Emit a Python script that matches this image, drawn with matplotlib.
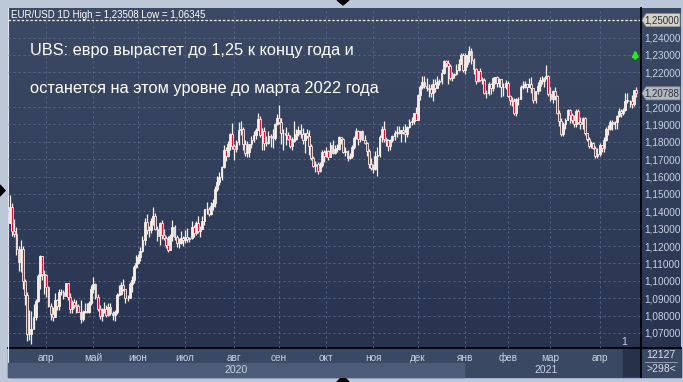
import numpy as np
import matplotlib
matplotlib.use('Agg')
import matplotlib.pyplot as plt
from matplotlib.colors import LinearSegmentedColormap
from matplotlib.patches import Rectangle, Polygon
from matplotlib.transforms import blended_transform_factory

# EUR/USD daily candles, 9 Mar 2020 .. 26 Apr 2021
opens = [
    1.1330, 1.1425, 1.1284, 1.1268, 1.1180, 1.1106, 1.1185, 1.0996, 1.0918, 1.0692, 1.0693, 1.0722, 1.0792, 1.0885, 1.1030, 1.1141, 1.1041,
    1.1031, 1.0965, 1.0856, 1.0808, 1.0794, 1.0891, 1.0857, 1.0935, 1.0936, 1.0913, 1.0986, 1.0908, 1.0837, 1.0875, 1.0862, 1.0855, 1.0823, 1.0781, 1.0822, 1.0825, 1.0822, 1.0874,
    1.0954, 1.0982, 1.0909, 1.0839, 1.0797, 1.0833, 1.0840, 1.0805, 1.0850, 1.0816, 1.0802, 1.0820, 1.0917, 1.0924, 1.0975, 1.0950, 1.0900, 1.0901, 1.0979, 1.1003, 1.1079,
    1.1101, 1.1134, 1.1172, 1.1237, 1.1337, 1.1290, 1.1295, 1.1342, 1.1373, 1.1300, 1.1257, 1.1331, 1.1264, 1.1247, 1.1204, 1.1178, 1.1260, 1.1310, 1.1250, 1.1220, 1.1218, 1.1245,
    1.1233, 1.1250, 1.1238, 1.1244, 1.1309, 1.1275, 1.1330, 1.1287, 1.1300, 1.1342, 1.1412, 1.1412, 1.1385, 1.1428, 1.1445, 1.1529, 1.1569, 1.1595, 1.1656, 1.1753, 1.1719, 1.1790, 1.1846,
    1.1777, 1.1761, 1.1800, 1.1867, 1.1875, 1.1788, 1.1737, 1.1740, 1.1785, 1.1813, 1.1841, 1.1870, 1.1932, 1.1838, 1.1862, 1.1795, 1.1795, 1.1833, 1.1830, 1.1822, 1.1904,
    1.1938, 1.1913, 1.1852, 1.1850, 1.1838, 1.1815, 1.1778, 1.1804, 1.1816, 1.1845, 1.1865, 1.1846, 1.1813, 1.1849, 1.1836, 1.1773, 1.1704, 1.1661, 1.1672, 1.1632, 1.1665, 1.1744,
    1.1720, 1.1747, 1.1715, 1.1782, 1.1734, 1.1760, 1.1760, 1.1828, 1.1814, 1.1744, 1.1747, 1.1706, 1.1718, 1.1768, 1.1823, 1.1861, 1.1815, 1.1860, 1.1812, 1.1795, 1.1746, 1.1673,
    1.1647, 1.1641, 1.1720, 1.1722, 1.1826, 1.1875, 1.1815, 1.1812, 1.1775, 1.1811, 1.1834, 1.1853, 1.1858, 1.1853, 1.1870, 1.1859, 1.1842, 1.1886, 1.1915, 1.1922, 1.1964,
    1.1927, 1.2071, 1.2114, 1.2143, 1.2122, 1.2109, 1.2101, 1.2078, 1.2133, 1.2111, 1.2145, 1.2150, 1.2197, 1.2264, 1.2255, 1.2239, 1.2166, 1.2187, 1.2188, 1.2213, 1.2250, 1.2297,
    1.2216, 1.2246, 1.2298, 1.2325, 1.2271, 1.2219, 1.2151, 1.2206, 1.2156, 1.2157, 1.2080, 1.2078, 1.2130, 1.2108, 1.2165, 1.2171, 1.2140, 1.2160, 1.2114, 1.2117,
    1.2136, 1.2062, 1.2040, 1.2035, 1.1963, 1.2046, 1.2049, 1.2117, 1.2119, 1.2131, 1.2118, 1.2130, 1.2107, 1.2038, 1.2092, 1.2120, 1.2156, 1.2150, 1.2165, 1.2176,
    1.2075, 1.2049, 1.2090, 1.2062, 1.1967, 1.1917, 1.1847, 1.1901, 1.1928, 1.1984, 1.1953, 1.1928, 1.1902, 1.1977, 1.1916, 1.1904, 1.1937, 1.1851, 1.1815, 1.1778, 1.1794, 1.1764, 1.1718,
    1.1728, 1.1779, 1.1762, 1.1813, 1.1874, 1.1871, 1.1914, 1.1900, 1.1911, 1.1947, 1.1979, 1.1967, 1.1983, 1.2036, 1.2036, 1.2033, 1.2015, 1.2097,
]
highs = [
    1.1495, 1.1450, 1.1357, 1.1310, 1.1200, 1.1237, 1.1200, 1.1013, 1.0937, 1.0830, 1.0826, 1.0866, 1.0893, 1.1038, 1.1147, 1.1145, 1.1060,
    1.1040, 1.0970, 1.0870, 1.0850, 1.0927, 1.0893, 1.0950, 1.0952, 1.0948, 1.0990, 1.0988, 1.0927, 1.0890, 1.0895, 1.0887, 1.0865, 1.0890, 1.0832, 1.0870, 1.0872, 1.0883, 1.0974,
    1.1019, 1.0985, 1.0925, 1.0858, 1.0845, 1.0876, 1.0863, 1.0874, 1.0872, 1.0826, 1.0830, 1.0928, 1.0977, 1.0995, 1.1008, 1.0955, 1.0920, 1.0995, 1.1030, 1.1092, 1.1147,
    1.1155, 1.1197, 1.1257, 1.1361, 1.1384, 1.1317, 1.1359, 1.1422, 1.1390, 1.1313, 1.1338, 1.1352, 1.1296, 1.1259, 1.1257, 1.1268, 1.1349, 1.1323, 1.1266, 1.1248, 1.1286, 1.1257,
    1.1290, 1.1303, 1.1253, 1.1346, 1.1320, 1.1346, 1.1371, 1.1318, 1.1375, 1.1415, 1.1452, 1.1425, 1.1452, 1.1469, 1.1547, 1.1601, 1.1625, 1.1660, 1.1781, 1.1771, 1.1805, 1.1848, 1.1908,
    1.1790, 1.1809, 1.1916, 1.1917, 1.1887, 1.1810, 1.1807, 1.1790, 1.1833, 1.1862, 1.1879, 1.1966, 1.1950, 1.1877, 1.1883, 1.1835, 1.1860, 1.1842, 1.1872, 1.1910, 1.1960,
    1.2011, 1.1937, 1.1872, 1.1885, 1.1855, 1.1839, 1.1827, 1.1917, 1.1871, 1.1888, 1.1900, 1.1882, 1.1850, 1.1872, 1.1870, 1.1786, 1.1718, 1.1688, 1.1681, 1.1683, 1.1755, 1.1753,
    1.1770, 1.1753, 1.1797, 1.1809, 1.1781, 1.1787, 1.1831, 1.1830, 1.1822, 1.1771, 1.1752, 1.1735, 1.1783, 1.1832, 1.1880, 1.1868, 1.1862, 1.1870, 1.1838, 1.1797, 1.1760, 1.1707,
    1.1673, 1.1745, 1.1770, 1.1838, 1.1891, 1.1920, 1.1830, 1.1815, 1.1815, 1.1840, 1.1868, 1.1893, 1.1892, 1.1870, 1.1890, 1.1905, 1.1890, 1.1929, 1.1941, 1.1965, 1.2003,
    1.2076, 1.2124, 1.2176, 1.2178, 1.2167, 1.2133, 1.2130, 1.2163, 1.2162, 1.2178, 1.2160, 1.2220, 1.2273, 1.2272, 1.2270, 1.2249, 1.2202, 1.2198, 1.2249, 1.2276, 1.2310, 1.2310,
    1.2310, 1.2301, 1.2349, 1.2340, 1.2283, 1.2225, 1.2208, 1.2223, 1.2172, 1.2167, 1.2096, 1.2145, 1.2140, 1.2172, 1.2174, 1.2180, 1.2169, 1.2163, 1.2140, 1.2156,
    1.2150, 1.2072, 1.2060, 1.2050, 1.2050, 1.2057, 1.2128, 1.2148, 1.2150, 1.2135, 1.2169, 1.2170, 1.2109, 1.2095, 1.2145, 1.2170, 1.2181, 1.2170, 1.2243, 1.2185,
    1.2113, 1.2100, 1.2113, 1.2070, 1.1985, 1.1934, 1.1915, 1.1934, 1.1990, 1.1988, 1.1966, 1.1952, 1.1989, 1.1990, 1.1945, 1.1942, 1.1945, 1.1853, 1.1830, 1.1802, 1.1801, 1.1775, 1.1762,
    1.1793, 1.1781, 1.1826, 1.1887, 1.1895, 1.1928, 1.1925, 1.1917, 1.1955, 1.1994, 1.1990, 1.1995, 1.2079, 1.2080, 1.2043, 1.2071, 1.2100, 1.2117,
]
lows = [
    1.1330, 1.1255, 1.1253, 1.1150, 1.1054, 1.1052, 1.0950, 1.0858, 1.0654, 1.0660, 1.0636, 1.0722, 1.0772, 1.0880, 1.0953, 1.1005, 1.0925,
    1.0905, 1.0848, 1.0777, 1.0769, 1.0790, 1.0830, 1.0830, 1.0920, 1.0896, 1.0910, 1.0888, 1.0812, 1.0812, 1.0845, 1.0815, 1.0820, 1.0757, 1.0770, 1.0817, 1.0812, 1.0813, 1.0860,
    1.0932, 1.0895, 1.0825, 1.0782, 1.0767, 1.0815, 1.0790, 1.0800, 1.0805, 1.0775, 1.0766, 1.0810, 1.0910, 1.0920, 1.0940, 1.0872, 1.0885, 1.0898, 1.0938, 1.0990, 1.1075,
    1.1095, 1.1115, 1.1165, 1.1205, 1.1271, 1.1250, 1.1275, 1.1320, 1.1290, 1.1230, 1.1206, 1.1242, 1.1236, 1.1187, 1.1168, 1.1175, 1.1230, 1.1235, 1.1196, 1.1190, 1.1212, 1.1200,
    1.1220, 1.1226, 1.1222, 1.1242, 1.1254, 1.1262, 1.1276, 1.1253, 1.1300, 1.1320, 1.1385, 1.1371, 1.1380, 1.1406, 1.1423, 1.1516, 1.1553, 1.1580, 1.1649, 1.1689, 1.1713, 1.1753, 1.1760,
    1.1696, 1.1740, 1.1782, 1.1841, 1.1754, 1.1721, 1.1712, 1.1710, 1.1766, 1.1800, 1.1817, 1.1866, 1.1826, 1.1753, 1.1753, 1.1774, 1.1785, 1.1770, 1.1762, 1.1811, 1.1895,
    1.1905, 1.1789, 1.1753, 1.1781, 1.1810, 1.1765, 1.1753, 1.1799, 1.1811, 1.1836, 1.1823, 1.1788, 1.1737, 1.1821, 1.1725, 1.1695, 1.1653, 1.1627, 1.1612, 1.1626, 1.1655, 1.1685,
    1.1710, 1.1695, 1.1712, 1.1732, 1.1730, 1.1740, 1.1755, 1.1787, 1.1737, 1.1720, 1.1689, 1.1703, 1.1706, 1.1760, 1.1815, 1.1782, 1.1800, 1.1808, 1.1785, 1.1718, 1.1649, 1.1640,
    1.1622, 1.1640, 1.1603, 1.1711, 1.1796, 1.1801, 1.1778, 1.1746, 1.1755, 1.1798, 1.1808, 1.1830, 1.1842, 1.1800, 1.1844, 1.1800, 1.1827, 1.1882, 1.1898, 1.1905, 1.1925,
    1.1923, 1.2039, 1.2106, 1.2110, 1.2091, 1.2058, 1.2060, 1.2037, 1.2084, 1.2110, 1.2125, 1.2130, 1.2192, 1.2232, 1.2132, 1.2154, 1.2151, 1.2165, 1.2184, 1.2205, 1.2245, 1.2200,
    1.2190, 1.2233, 1.2262, 1.2250, 1.2192, 1.2132, 1.2143, 1.2150, 1.2130, 1.2073, 1.2054, 1.2068, 1.2077, 1.2090, 1.2130, 1.2116, 1.2115, 1.2058, 1.2062, 1.2103,
    1.2057, 1.2011, 1.2004, 1.1952, 1.1950, 1.2011, 1.2046, 1.2102, 1.2109, 1.2086, 1.2114, 1.2082, 1.2023, 1.2022, 1.2077, 1.2091, 1.2130, 1.2116, 1.2162, 1.2062,
    1.2035, 1.2024, 1.2040, 1.1958, 1.1893, 1.1836, 1.1836, 1.1873, 1.1923, 1.1910, 1.1910, 1.1883, 1.1883, 1.1905, 1.1874, 1.1873, 1.1839, 1.1807, 1.1762, 1.1763, 1.1761, 1.1704, 1.1704,
    1.1720, 1.1743, 1.1739, 1.1806, 1.1837, 1.1865, 1.1868, 1.1871, 1.1876, 1.1942, 1.1944, 1.1955, 1.1975, 1.2026, 1.2000, 1.1995, 1.2005, 1.2060,
]
closes = [
    1.1425, 1.1284, 1.1268, 1.1180, 1.1106, 1.1185, 1.0996, 1.0918, 1.0692, 1.0693, 1.0722, 1.0792, 1.0885, 1.1030, 1.1141, 1.1041, 1.1031,
    1.0965, 1.0856, 1.0808, 1.0794, 1.0891, 1.0857, 1.0935, 1.0936, 1.0913, 1.0986, 1.0908, 1.0837, 1.0875, 1.0862, 1.0855, 1.0823, 1.0781, 1.0822, 1.0825, 1.0822, 1.0874, 1.0954,
    1.0982, 1.0909, 1.0839, 1.0797, 1.0833, 1.0840, 1.0805, 1.0850, 1.0816, 1.0802, 1.0820, 1.0917, 1.0924, 1.0975, 1.0950, 1.0900, 1.0901, 1.0979, 1.1003, 1.1079, 1.1101,
    1.1134, 1.1172, 1.1237, 1.1337, 1.1290, 1.1295, 1.1342, 1.1373, 1.1300, 1.1257, 1.1331, 1.1264, 1.1247, 1.1204, 1.1178, 1.1260, 1.1310, 1.1250, 1.1220, 1.1218, 1.1245, 1.1233,
    1.1250, 1.1238, 1.1244, 1.1309, 1.1275, 1.1330, 1.1287, 1.1300, 1.1342, 1.1412, 1.1412, 1.1385, 1.1428, 1.1445, 1.1529, 1.1569, 1.1595, 1.1656, 1.1753, 1.1719, 1.1790, 1.1846, 1.1777,
    1.1761, 1.1800, 1.1867, 1.1875, 1.1788, 1.1737, 1.1740, 1.1785, 1.1813, 1.1841, 1.1870, 1.1932, 1.1838, 1.1862, 1.1795, 1.1795, 1.1833, 1.1830, 1.1822, 1.1904, 1.1938,
    1.1913, 1.1852, 1.1850, 1.1838, 1.1815, 1.1778, 1.1804, 1.1816, 1.1845, 1.1865, 1.1846, 1.1813, 1.1849, 1.1836, 1.1773, 1.1704, 1.1661, 1.1672, 1.1632, 1.1665, 1.1744, 1.1720,
    1.1747, 1.1715, 1.1782, 1.1734, 1.1760, 1.1760, 1.1828, 1.1814, 1.1744, 1.1747, 1.1706, 1.1718, 1.1768, 1.1823, 1.1861, 1.1815, 1.1860, 1.1812, 1.1795, 1.1746, 1.1673, 1.1647,
    1.1641, 1.1720, 1.1722, 1.1826, 1.1875, 1.1815, 1.1812, 1.1775, 1.1811, 1.1834, 1.1853, 1.1858, 1.1853, 1.1870, 1.1859, 1.1842, 1.1886, 1.1915, 1.1922, 1.1964, 1.1927,
    1.2071, 1.2114, 1.2143, 1.2122, 1.2109, 1.2101, 1.2078, 1.2133, 1.2111, 1.2145, 1.2150, 1.2197, 1.2264, 1.2255, 1.2239, 1.2166, 1.2187, 1.2188, 1.2213, 1.2250, 1.2297, 1.2216,
    1.2246, 1.2298, 1.2325, 1.2271, 1.2219, 1.2151, 1.2206, 1.2156, 1.2157, 1.2080, 1.2078, 1.2130, 1.2108, 1.2165, 1.2171, 1.2140, 1.2160, 1.2114, 1.2117, 1.2136,
    1.2062, 1.2040, 1.2035, 1.1963, 1.2046, 1.2049, 1.2117, 1.2119, 1.2131, 1.2118, 1.2130, 1.2107, 1.2038, 1.2092, 1.2120, 1.2156, 1.2150, 1.2165, 1.2176, 1.2075,
    1.2049, 1.2090, 1.2062, 1.1967, 1.1917, 1.1847, 1.1901, 1.1928, 1.1984, 1.1953, 1.1928, 1.1902, 1.1977, 1.1916, 1.1904, 1.1937, 1.1851, 1.1815, 1.1778, 1.1794, 1.1764, 1.1718, 1.1728,
    1.1779, 1.1762, 1.1813, 1.1874, 1.1871, 1.1914, 1.1900, 1.1911, 1.1947, 1.1979, 1.1967, 1.1983, 1.2036, 1.2036, 1.2033, 1.2015, 1.2097, 1.2079,
]

# first bar index of each month, and the month names
month_starts = [17, 39, 60, 82, 105, 126, 148, 170, 191, 213, 233, 253, 276]
month_names = ['апр', 'май', 'июн', 'июл', 'авг', 'сен', 'окт', 'ноя', 'дек', 'янв', 'фев', 'мар', 'апр']
year_start_2021 = 213
price_ticks = [1.07, 1.08, 1.09, 1.10, 1.11, 1.12, 1.13, 1.14, 1.15, 1.16, 1.17,
               1.18, 1.19, 1.20, 1.22, 1.23, 1.24]
target_level = 1.25
last_price = 1.20788

title_1 = 'UBS: евро вырастет до 1,25 к концу года и'
title_2 = 'останется на этом уровне до марта 2022 года'
header = 'EUR/USD 1D High = 1,23508 Low = 1,06345'

o = np.array(opens); h = np.array(highs); l = np.array(lows); c = np.array(closes)
idx = np.arange(len(c))

W, H = 683, 382
fig = plt.figure(figsize=(W / 100, H / 100), dpi=100, facecolor='#bcc8d8')

# pixel-space background layer
bg = fig.add_axes([0, 0, 1, 1])
bg.set_xlim(0, W); bg.set_ylim(H, 0); bg.axis('off')
grad = LinearSegmentedColormap.from_list('g', ['#3d4a66', '#28344f'])
bg.imshow(np.linspace(0, 1, 256).reshape(-1, 1), cmap=grad, aspect='auto',
          extent=[8, 681, 348, 8], zorder=0)
bg.add_patch(Rectangle((8, 348), 673, 29, color='#3a4864', zorder=1))
bg.add_patch(Rectangle((623, 349), 17, 27, color='#27314a', zorder=2))
bg.plot([8, 681], [348, 348], color='black', lw=1.3, zorder=3)
bg.plot([640.5, 640.5], [8, 377], color='black', lw=1.3, zorder=3)
bg.plot([7.5, 7.5], [8, 377], color='#dde4ee', lw=0.8, zorder=3)
bg.plot([645, 677], [362, 362], color='#9aa6ba', lw=0.6, zorder=3)
bg.text(661, 355, '12127', color='#d8e0ec', fontsize=7.5, ha='center', va='center',
        family='Liberation Sans', zorder=4)
bg.text(661, 369.5, '>298<', color='#d8e0ec', fontsize=7.5, ha='center', va='center',
        family='Liberation Sans', zorder=4)
# small navigation triangles
bg.add_patch(Polygon([[337, 0], [349, 0], [343, 5]], color='black', zorder=4))
bg.add_patch(Polygon([[337, 382], [349, 382], [343, 376]], color='black', zorder=4))
bg.add_patch(Polygon([[0, 185], [0, 196], [5, 190.5]], color='black', zorder=4))

ax = fig.add_axes([8 / W, 34 / H, 632 / W, 340 / H], zorder=5)
ax.patch.set_alpha(0)
for s in ax.spines.values():
    s.set_visible(False)
ax.set_xlim(-0.94, len(c) + 0.9)
ax.set_ylim(1.0613, 1.2570)

ax.set_xticks(month_starts)
ax.set_xticklabels(month_names)
ax.set_yticks(price_ticks)
ax.set_yticklabels([f'{v:.5f}'.replace('.', ',') for v in price_ticks])
ax.yaxis.tick_right()
ax.tick_params(axis='both', length=0, colors='#c8d3e3', labelsize=7.2)
ax.tick_params(axis='x', pad=3.5)
ax.tick_params(axis='y', pad=3)
for t in ax.get_xticklabels() + ax.get_yticklabels():
    t.set_family('Liberation Sans')
ax.grid(True, color='#5d6e8e', lw=0.6, linestyle=(0, (2.5, 3.5)))
ax.set_axisbelow(True)

# candles
up = c >= o
ax.vlines(idx, l, h, color='#f6eee8', lw=0.9, zorder=3)
body = np.maximum(np.abs(c - o), 0.0003)
ax.bar(idx, body, bottom=np.minimum(o, c), width=0.85,
       color=np.where(up, '#f6eee8', '#d8103a'), edgecolor='#f6eee8', lw=0.6, zorder=4)

ax.axhline(target_level, color='#f0f0f0', lw=0.9, linestyle=(0, (2, 1.5)), zorder=2)

# price tags on the right scale
tr = blended_transform_factory(ax.transAxes, ax.transData)
px_x = 1 / 632
px_y = 0.01 / 17.3
for lvl, fc in [(target_level, '#d6d3c3'), (last_price, '#b3b8be')]:
    tag = Polygon([[1 + 2 * px_x, lvl], [1 + 6 * px_x, lvl + 6.5 * px_y],
                   [1 + 40 * px_x, lvl + 6.5 * px_y], [1 + 40 * px_x, lvl - 6.5 * px_y],
                   [1 + 6 * px_x, lvl - 6.5 * px_y]],
                  closed=True, fc=fc, ec='#8a8f96', lw=0.5, transform=tr, clip_on=False, zorder=6)
    ax.add_patch(tag)
    ax.text(1 + 22 * px_x, lvl, f'{lvl:.5f}'.replace('.', ','), transform=tr,
            ha='center', va='center', fontsize=7, color='#2a3040',
            family='Liberation Sans', zorder=7, clip_on=False)

ax.annotate('', xy=(len(c) - 1.3, 1.2345), xytext=(len(c) - 1.3, 1.2262),
            arrowprops=dict(arrowstyle='-|>', color='#22ee22', lw=1.8, mutation_scale=8),
            zorder=6)

# year row under the month labels
trx = blended_transform_factory(ax.transData, ax.transAxes)
ax.add_patch(Rectangle((ax.get_xlim()[0], -0.0865), year_start_2021 - 0.5 - ax.get_xlim()[0],
                       0.0425, transform=trx, color='#4b5b78', clip_on=False, zorder=1))
ax.text((ax.get_xlim()[0] + year_start_2021) / 2, -0.064, '2020', transform=trx,
        ha='center', va='center', color='#c8d3e3', fontsize=7.5, family='Liberation Sans')
ax.text((ax.get_xlim()[1] + year_start_2021) / 2 - 3, -0.064, '2021', transform=trx,
        ha='center', va='center', color='#c8d3e3', fontsize=7.5, family='Liberation Sans')
ax.text(0.975, 0.003, '1', transform=ax.transAxes, color='#c8d3e3', fontsize=7.5,
        ha='center', va='bottom', family='Liberation Sans')

ax.text(0.004, 0.993, header, transform=ax.transAxes, color='white', fontsize=7,
        ha='left', va='top', family='Liberation Sans')
ax.text(0.035, 0.876, title_1, transform=ax.transAxes, color='white', fontsize=11.8,
        ha='left', va='center', family='Liberation Sans')
ax.text(0.035, 0.764, title_2, transform=ax.transAxes, color='white', fontsize=11.8,
        ha='left', va='center', family='Liberation Sans')

fig.savefig('out.png', dpi=100, facecolor=fig.get_facecolor())
